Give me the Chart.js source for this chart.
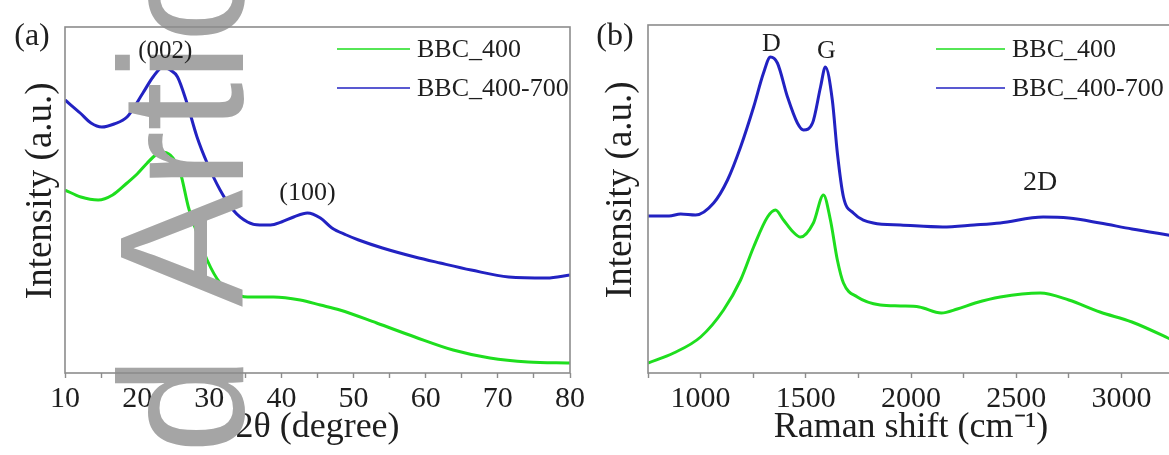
<!DOCTYPE html>
<html>
<head>
<meta charset="utf-8">
<script src="https://cdn.jsdelivr.net/npm/chart.js@4.4.1/dist/chart.umd.min.js"></script>
<style>
  html, body { margin: 0; padding: 0; background: #fff; }
  #wrap { position: relative; width: 1169px; height: 455px; overflow: hidden; }
  canvas { position: absolute; top: 0; }
  #xrd { left: 0; }
  #raman { left: 580px; }
</style>
</head>
<body>
<div id="wrap">
  <canvas id="xrd" width="600" height="455"></canvas>
  <canvas id="raman" width="600" height="455"></canvas>
</div>
<script>
// (a) XRD patterns: 2θ (degree) vs intensity (a.u.)
const xrdAngle400 = [10, 12.2, 14.6, 16.6, 18.6, 20, 21.4, 22.4, 23.2, 24.6, 26, 27.1, 28.3, 29.7, 31.5, 33.3, 35.3, 38.9, 42.6, 45.4, 48.1, 53.2, 58.5, 63.8, 68.9, 74.2, 80]
const xrdInt400   = [183, 176, 173, 178, 190, 199, 210, 217, 221, 218, 200, 166, 140, 113, 90, 80, 76, 76, 73, 68, 63, 50, 36, 23, 15, 11, 10]

const xrdAngle700 = [10, 12.1, 13.6, 15.1, 16.8, 18.6, 20.8, 22.2, 23.6, 24.6, 25.6, 26.9, 28.3, 29.7, 31.5, 33.3, 35.3, 37, 38.5, 40, 41.7, 43.6, 45.4, 47, 49, 50.7, 54, 58.5, 62, 66.3, 71.5, 76.8, 80]
const xrdInt700   = [273, 260, 250, 246, 249, 256, 280, 296, 306, 303, 296, 270, 236, 210, 183, 163, 151, 148, 148, 151, 156, 160, 155, 145, 138, 133, 125, 116, 110, 103, 96, 95, 98]

// (b) Raman spectra: Raman shift (cm-1) vs intensity (a.u.)
const ramanShift400 = [750, 872, 1000, 1109, 1190, 1252, 1318, 1356, 1394, 1440, 1475, 1536, 1584, 1617, 1650, 1679, 1745, 1854, 1950, 2039, 2144, 2220, 2305, 2424, 2614, 2750, 2898, 3050, 3221, 3250]
const ramanInt400   = [10, 20, 36, 63, 93, 126, 156, 163, 153, 141, 136, 150, 178, 153, 113, 90, 76, 68, 67, 66, 60, 64, 70, 76, 80, 73, 61, 51, 35, 32]

const ramanShift700 = [750, 850, 905, 976, 1062, 1128, 1190, 1252, 1299, 1332, 1365, 1413, 1460, 1489, 1532, 1570, 1593, 1626, 1650, 1679, 1726, 1821, 1950, 2150, 2300, 2424, 2628, 2750, 2898, 3050, 3221, 3250]
const ramanInt700   = [157, 157, 159, 158, 170, 193, 226, 266, 300, 316, 310, 276, 250, 243, 250, 286, 306, 273, 220, 176, 160, 150, 148, 146, 148, 150, 156, 155, 150, 144, 138, 137]

const seriesNames = ['BBC_400', 'BBC_400-700']
const xrdTickLabels = [10, 20, 30, 40, 50, 60, 70, 80]
const ramanTickLabels = [1000, 1500, 2000, 2500, 3000]

const SERIF = '"Liberation Serif", "Times New Roman", serif'
const GREEN = '#1ede1e'
const BLUE = '#2222c2'
const FRAME = '#8c8c8c'
const INK = '#1e1e1e'

const toPoints = (xs, ys) => xs.map((x, i) => ({ x, y: ys[i] }))

function lineSet(label, color, pts) {
  return {
    label,
    data: pts,
    borderColor: color,
    borderWidth: 3,
    pointRadius: 0,
    cubicInterpolationMode: 'monotone',
    fill: false
  }
}

// grey watermark running up the left panel
function drawWatermark(ctx) {
  ctx.save()
  ctx.font = '176px "Liberation Sans", Arial, sans-serif'
  ctx.fillStyle = '#a5a5a5'
  ctx.textBaseline = 'alphabetic'
  ctx.textAlign = 'left'
  ctx.translate(243, 307)
  ctx.rotate(-Math.PI / 2)
  const lead = ctx.measureText('Accepted ').width
  ctx.fillText('Accepted Article', -lead, 0)
  ctx.restore()
}

const framePlugin = {
  id: 'frame',
  afterDatasetsDraw(chart, args, opts) {
    const { ctx, chartArea: a } = chart
    if (opts.watermark) drawWatermark(ctx)
    ctx.save()
    ctx.strokeStyle = FRAME
    ctx.lineWidth = 1.6
    ctx.strokeRect(a.left, a.top, a.right - a.left, a.bottom - a.top)
    ctx.restore()
  }
}

// legend entries, panel letter and peak labels
const notesPlugin = {
  id: 'notes',
  afterDraw(chart, args, opts) {
    const { ctx, scales } = chart
    ctx.save()
    ctx.fillStyle = INK
    ctx.textBaseline = 'middle'

    const lg = opts.legend
    chart.data.datasets.forEach((ds, i) => {
      const y = lg.y[i]
      ctx.strokeStyle = ds.borderColor
      ctx.lineWidth = 1.4
      ctx.beginPath()
      ctx.moveTo(lg.x1, y)
      ctx.lineTo(lg.x2, y)
      ctx.stroke()
      ctx.font = `26px ${SERIF}`
      ctx.textAlign = 'left'
      ctx.fillText(ds.label, lg.textX, y + 1)
    })

    ctx.font = `32px ${SERIF}`
    ctx.textAlign = 'center'
    ctx.fillText(opts.panel.text, opts.panel.x, opts.panel.y)

    opts.peaks.forEach(p => {
      ctx.font = `${p.size}px ${SERIF}`
      ctx.fillText(p.text, scales.x.getPixelForValue(p.at), scales.y.getPixelForValue(p.level))
    })
    ctx.restore()
  }
}

function panelOptions({ xMin, xMax, yMax, tickLabels, xTitle, yWidth, padTop, padRight, notes, watermark }) {
  return {
    responsive: false,
    animation: false,
    devicePixelRatio: 1,
    layout: { padding: { top: padTop, right: padRight, left: 0, bottom: 0 } },
    plugins: {
      legend: { display: false },
      tooltip: { enabled: false },
      frame: { watermark },
      notes
    },
    scales: {
      x: {
        type: 'linear',
        min: xMin,
        max: xMax,
        z: 1,
        afterFit: s => { s.height = 82 },
        border: { display: false },
        grid: { drawOnChartArea: false, drawTicks: true, tickLength: 5, color: FRAME, tickWidth: 1.4 },
        ticks: {
          stepSize: (xMax - xMin) > 1000 ? 250 : 5,
          autoSkip: false,
          maxRotation: 0,
          padding: 3,
          color: INK,
          font: { family: SERIF, size: 30 },
          callback: v => tickLabels.includes(v) ? String(v) : ''
        },
        title: {
          display: true,
          text: xTitle,
          color: INK,
          font: { family: SERIF, size: 36 },
          padding: { top: 0, bottom: 6 }
        }
      },
      y: {
        min: 0,
        max: yMax,
        afterFit: s => { s.width = yWidth },
        border: { display: false },
        grid: { display: false },
        ticks: { display: false },
        title: {
          display: true,
          // en space in front lifts the centred label a little
          text: '\u2002Intensity (a.u.)',
          color: INK,
          font: { family: SERIF, size: 37 },
          padding: { top: 19, bottom: 0 }
        }
      }
    }
  }
}

new Chart(document.getElementById('xrd'), {
  type: 'line',
  data: {
    datasets: [
      lineSet(seriesNames[0], GREEN, toPoints(xrdAngle400, xrdInt400)),
      lineSet(seriesNames[1], BLUE, toPoints(xrdAngle700, xrdInt700))
    ]
  },
  options: panelOptions({
    xMin: 10, xMax: 80, yMax: 346,
    tickLabels: xrdTickLabels,
    xTitle: '2θ (degree)',
    yWidth: 65, padTop: 27, padRight: 30,
    watermark: true,
    notes: {
      legend: { x1: 337, x2: 410, textX: 417, y: [49, 88] },
      panel: { text: '(a)', x: 32, y: 37 },
      peaks: [
        { text: '(002)', at: 23.9, level: 322, size: 25 },
        { text: '(100)', at: 43.6, level: 180, size: 26 }
      ]
    }
  }),
  plugins: [framePlugin, notesPlugin]
})

new Chart(document.getElementById('raman'), {
  type: 'line',
  data: {
    datasets: [
      lineSet(seriesNames[0], GREEN, toPoints(ramanShift400, ramanInt400)),
      lineSet(seriesNames[1], BLUE, toPoints(ramanShift700, ramanInt700))
    ]
  },
  options: panelOptions({
    xMin: 750, xMax: 3250, yMax: 348,
    tickLabels: ramanTickLabels,
    xTitle: 'Raman shift (cm⁻¹)',
    yWidth: 68, padTop: 25, padRight: 6,
    watermark: false,
    notes: {
      legend: { x1: 356, x2: 425, textX: 432, y: [49, 88] },
      panel: { text: '(b)', x: 35, y: 37 },
      peaks: [
        { text: 'D', at: 1337, level: 329, size: 26 },
        { text: 'G', at: 1598, level: 322, size: 26 },
        { text: '2D', at: 2614, level: 190, size: 28 }
      ]
    }
  }),
  plugins: [framePlugin, notesPlugin]
})
</script>
</body>
</html>
